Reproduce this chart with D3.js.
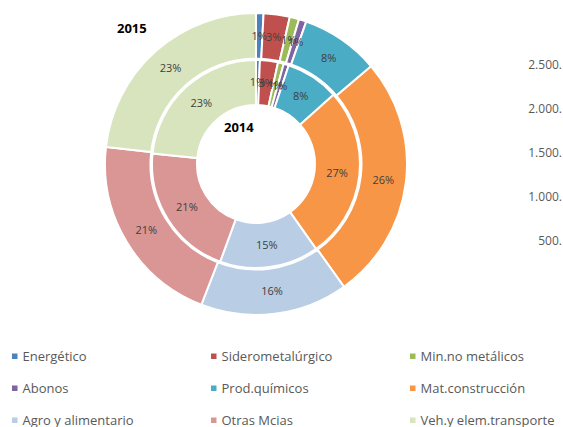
<!DOCTYPE html>
<html><head><meta charset="utf-8">
<script src="https://cdn.jsdelivr.net/npm/d3@7"></script>
<style>body{margin:0;background:#fff}svg{display:block}</style>
</head><body><svg id="c" width="563" height="427"></svg>
<script>
const categories = ["Energético","Siderometalúrgico","Min.no metálicos","Abonos","Prod.químicos","Mat.construcción","Agro y alimentario","Otras Mcias","Veh.y elem.transporte"];
const values2014 = [0.6, 2.8, 0.9, 0.8, 8.3, 26.8, 15.4, 21.0, 23.4];
const values2015 = [0.8, 2.8, 1.0, 0.8, 8.4, 26.3, 15.8, 20.9, 23.2];
const colors = ["#4F81BD","#C0504D","#9BBB59","#8064A2","#4BACC6","#F79646","#B9CDE5","#D99694","#D7E4BD"];
const axisTicks = ["2.500.","2.000.","1.500.","1.000.","500."];
const ringLabels = ["2014","2015"];

const svg = d3.select("#c");
const font = "'Open Sans', Calibri, sans-serif";
const cx = 256, cy = 164;
const g = svg.append("g").attr("transform", `translate(${cx},${cy})`);
const pie = d3.pie().sort(null).value(d => d);

function ring(vals, r0, r1) {
  const arc = d3.arc().innerRadius(r0).outerRadius(r1);
  const arcs = pie(vals);
  const grp = g.append("g");
  grp.selectAll("path").data(arcs).join("path")
    .attr("d", arc).attr("fill", (d,i) => colors[i])
    .attr("stroke", "#fff").attr("stroke-width", 2);
  grp.selectAll("text").data(arcs).join("text")
    .attr("transform", d => `translate(${arc.centroid(d)})`)
    .attr("text-anchor", "middle").attr("dy", "0.35em")
    .attr("font-family", font).attr("font-size", 11).attr("fill", "#404040")
    .text(d => Math.round(d.value) + "%");
}
ring(values2014, 59, 104);
ring(values2015, 105.5, 151);

svg.append("text").attr("x", 117).attr("y", 33).attr("font-family", font)
  .attr("font-weight", "bold").attr("font-size", 13).attr("fill", "#000").text(ringLabels[1]);
svg.append("text").attr("x", 224).attr("y", 132).attr("font-family", font)
  .attr("font-weight", "bold").attr("font-size", 13).attr("fill", "#000").text(ringLabels[0]);

// partial axis on the right (clipped in the source)
const yScale = d3.scalePoint().domain(axisTicks).range([65, 241]);
svg.append("g").selectAll("text").data(axisTicks).join("text")
  .attr("x", 562).attr("y", d => yScale(d)).attr("dy", "0.35em")
  .attr("text-anchor", "end").attr("font-family", font).attr("font-size", 12)
  .attr("fill", "#595959").text(d => d);

// legend
const colX = [12, 211, 410], rowY = [356, 388, 420];
const lg = svg.append("g").selectAll("g").data(categories).join("g")
  .attr("transform", (d,i) => `translate(${colX[i%3]},${rowY[Math.floor(i/3)]})`);
lg.append("rect").attr("x", 0).attr("y", -2.5).attr("width", 5.5).attr("height", 5.5)
  .attr("fill", (d,i) => colors[i]);
lg.append("text").attr("x", 10.5).attr("dy", "0.35em").attr("font-family", font)
  .attr("font-size", 13).attr("fill", "#595959").text(d => d);
</script></body></html>
